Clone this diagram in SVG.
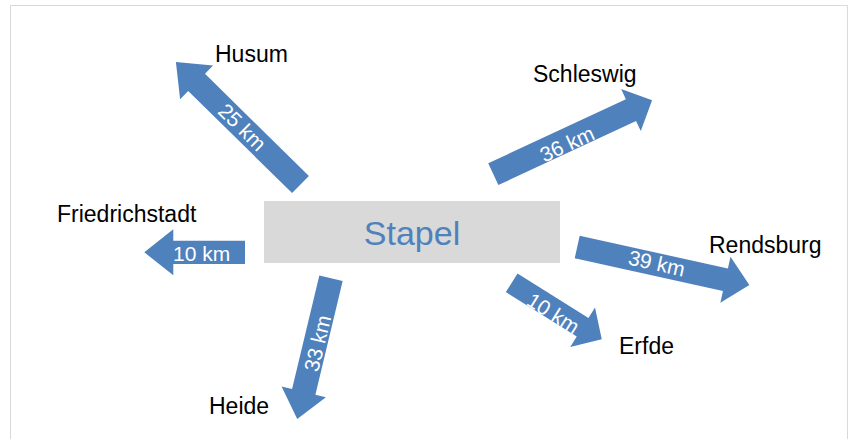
<svg xmlns="http://www.w3.org/2000/svg" width="848" height="439" viewBox="0 0 848 439">
<style>
.arrow{fill:#4f81bd;stroke:none}
.alab{font-family:"Liberation Sans",Arial,sans-serif;font-size:21px;fill:#ffffff;text-anchor:middle}
.lab{font-family:"Liberation Sans",Arial,sans-serif;font-size:23px;fill:#000000}
</style>
<rect x="0" y="0" width="848" height="439" fill="#ffffff"/>
<path d="M10.5 440 V5.5 H847.5 V440" fill="none" stroke="#d9d9d9" stroke-width="1"/>
<g id="stapel">
<rect x="264" y="201" width="296" height="62" fill="#d9d9d9"/>
<text x="412" y="245" font-family="'Liberation Sans',Arial,sans-serif" font-size="34" fill="#4f81bd" text-anchor="middle">Stapel</text>
</g>
<g id="connectors">
<g id="arrow-husum">
<polygon class="arrow" transform="translate(300.5,184.5) rotate(-135.5)" points="0,-12 145.7,-12 145.7,-23.5 174.7,0 145.7,23.5 145.7,12 0,12"/>
<text class="alab" transform="translate(242.2,127.2) rotate(44.5)" dy="0.35em">25 km</text>
</g>
<g id="arrow-schleswig">
<polygon class="arrow" transform="translate(493.3,174.2) rotate(-25)" points="0,-12 151.9,-12 151.9,-23.25 175.2,0 151.9,23.25 151.9,12 0,12"/>
<text class="alab" transform="translate(567,144) rotate(-25)" dy="0.35em">36 km</text>
</g>
<g id="arrow-friedrichstadt">
<polygon class="arrow" transform="translate(245,252.3) rotate(180)" points="0,-11.65 71.7,-11.65 71.7,-23 100.7,0 71.7,23 71.7,11.65 0,11.65"/>
<text class="alab" transform="translate(201.7,254)" dy="0.35em">10 km</text>
</g>
<g id="arrow-rendsburg">
<polygon class="arrow" transform="translate(577.2,247) rotate(12.45)" points="0,-11.5 151.8,-11.5 151.8,-23.5 176.3,0 151.8,23.5 151.8,11.5 0,11.5"/>
<text class="alab" transform="translate(656.7,263.3) rotate(12.45)" dy="0.35em">39 km</text>
</g>
<g id="arrow-erfde">
<polygon class="arrow" transform="translate(511.7,282.8) rotate(32.1)" points="0,-11 83.7,-11 83.7,-23.35 106.3,0 83.7,23.35 83.7,11 0,11"/>
<text class="alab" transform="translate(553.3,313.3) rotate(32.1)" dy="0.35em">10 km</text>
</g>
<g id="arrow-heide">
<polygon class="arrow" transform="translate(331,278.3) rotate(103.5)" points="0,-12 116.8,-12 116.8,-22.8 144.7,0 116.8,22.8 116.8,12 0,12"/>
<text class="alab" transform="translate(317.5,343.3) rotate(-76.5)" dy="0.35em">33 km</text>
</g>
</g>
<g id="husum"><text class="lab" x="215" y="62">Husum</text></g>
<g id="schleswig"><text class="lab" x="533" y="82">Schleswig</text></g>
<g id="friedrichstadt"><text class="lab" x="57" y="222">Friedrichstadt</text></g>
<g id="rendsburg"><text class="lab" x="709" y="253">Rendsburg</text></g>
<g id="erfde"><text class="lab" x="619" y="354">Erfde</text></g>
<g id="heide"><text class="lab" x="209" y="414">Heide</text></g>
</svg>
